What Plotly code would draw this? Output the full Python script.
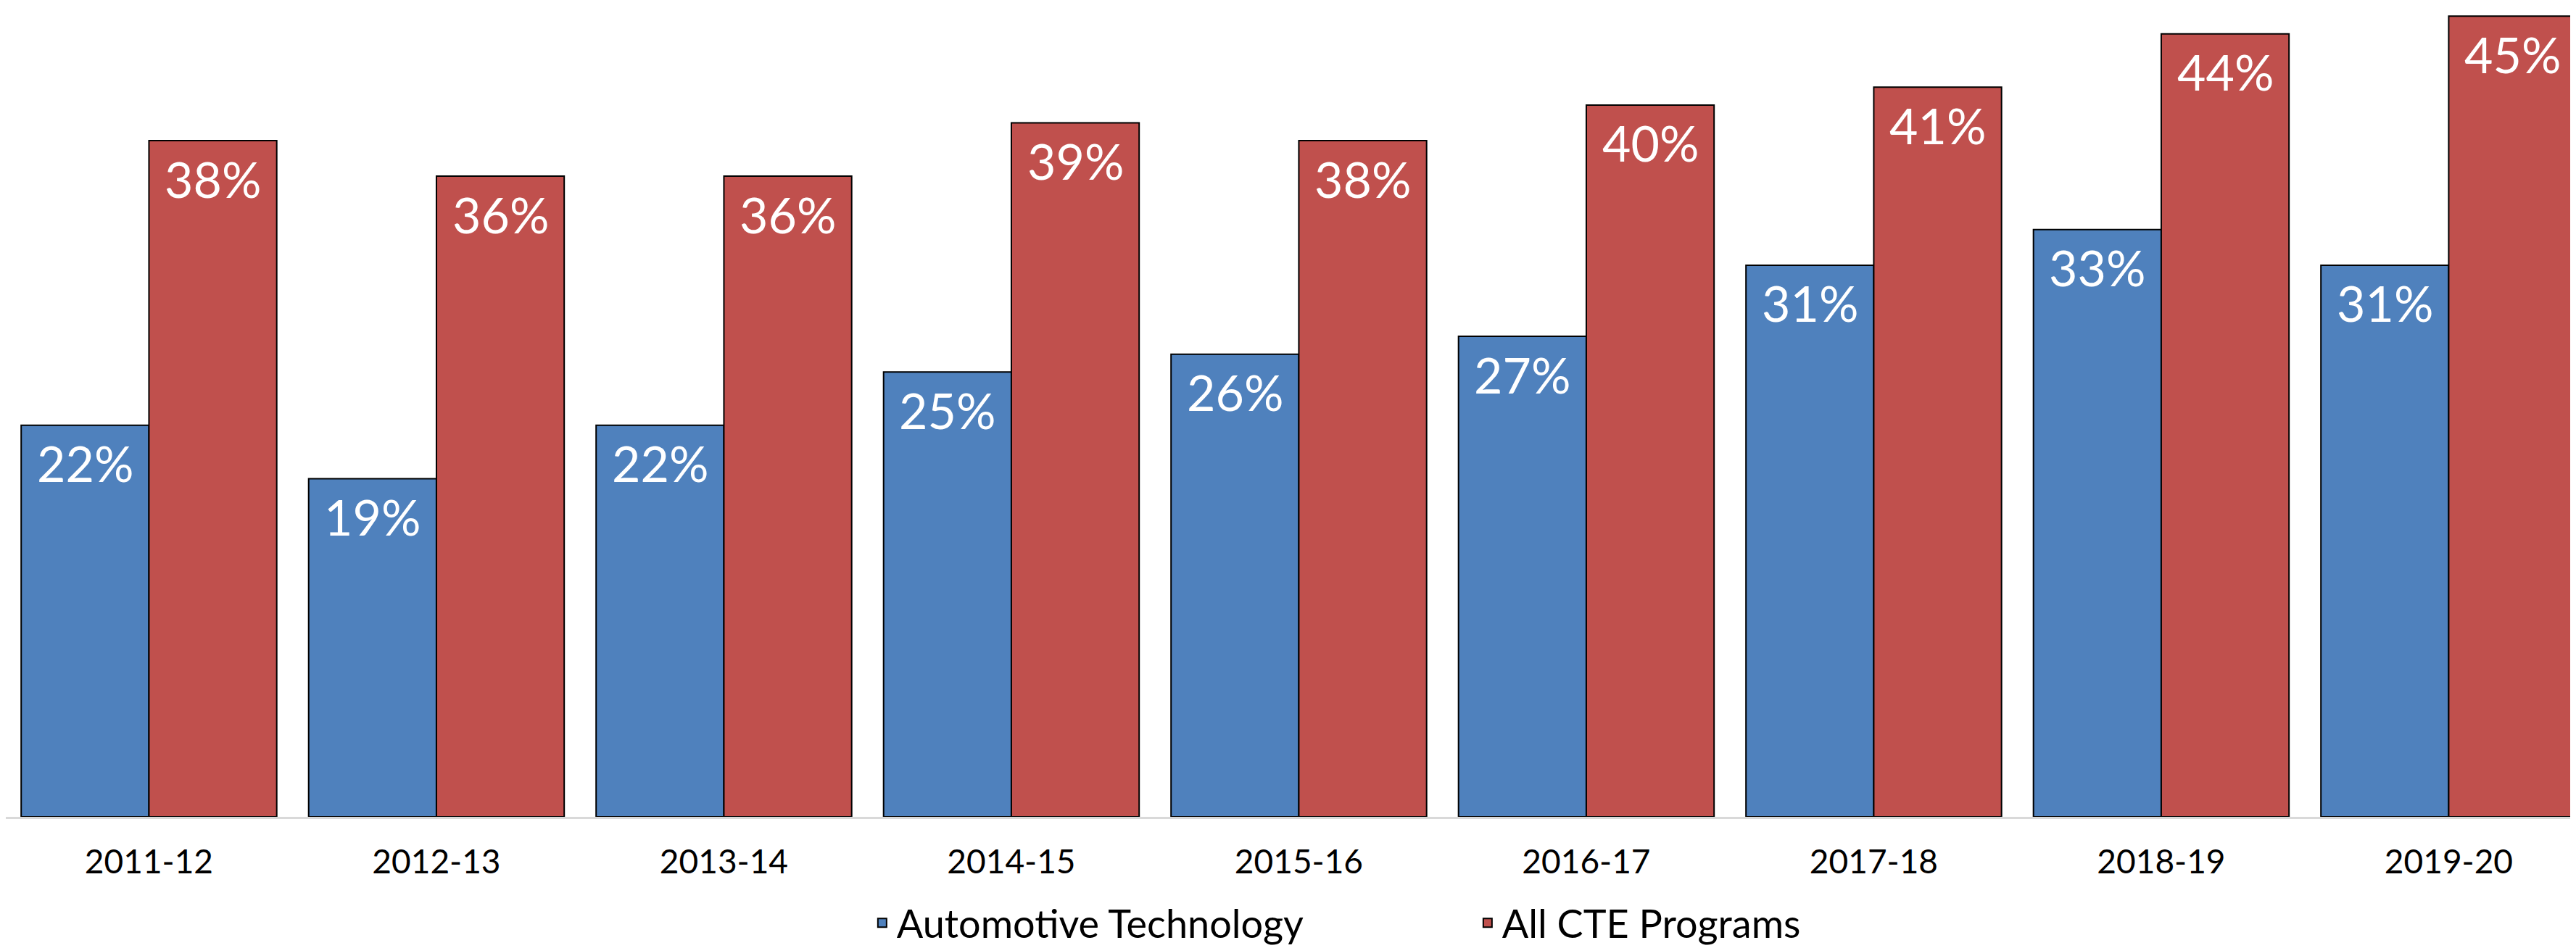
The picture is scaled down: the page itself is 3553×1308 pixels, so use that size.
import plotly.graph_objects as go

years = ["2011-12", "2012-13", "2013-14", "2014-15", "2015-16",
         "2016-17", "2017-18", "2018-19", "2019-20"]
auto_tech = [22, 19, 22, 25, 26, 27, 31, 33, 31]
all_cte = [38, 36, 36, 39, 38, 40, 41, 44, 45]
series_names = ["Automotive Technology", "All CTE Programs"]

BLUE = "#4F81BD"
RED = "#C0504D"
FONT = "Lato, 'Open Sans', sans-serif"

W, H = 3553, 1308
BARGAP = 0.111

fig = go.Figure()
for name, vals, col in [(series_names[0], auto_tech, BLUE),
                        (series_names[1], all_cte, RED)]:
    fig.add_trace(go.Bar(
        x=years, y=vals, name=name,
        marker=dict(color=col, line=dict(color="#000000", width=2)),
        hoverinfo="x+y+name",
    ))

# data labels (inside near the top of each bar)
half = (1 - BARGAP) / 4
annotations = []
for k, vals in enumerate([auto_tech, all_cte]):
    off = -half if k == 0 else half
    for i, v in enumerate(vals):
        annotations.append(dict(
            x=i + off, y=v, xref="x", yref="y",
            text=f"{v}%", showarrow=False,
            yanchor="middle", xanchor="center", yshift=-52,
            font=dict(family=FONT, size=68, color="#FFFFFF"),
        ))

fig.update_layout(
    width=W, height=H,
    margin=dict(l=0, r=0, t=0, b=180),
    paper_bgcolor="#FFFFFF", plot_bgcolor="#FFFFFF",
    barmode="group", bargap=BARGAP, bargroupgap=0,
    font=dict(family=FONT, size=46, color="#000000"),
    showlegend=True,
    legend=dict(orientation="h", x=0.3346, xanchor="left",
                y=-0.131, yanchor="middle",
                font=dict(family=FONT, size=54, color="#000000"),
                entrywidth=790, bgcolor="rgba(0,0,0,0)"),
    annotations=annotations,
)
fig.update_xaxes(
    type="category", range=[-0.498, 8.463],
    showline=True, linecolor="#D9D9D9", linewidth=3,
    showgrid=False, zeroline=False,
    ticks="outside", ticklen=20, tickcolor="rgba(0,0,0,0)",
    tickfont=dict(family=FONT, size=46, color="#000000"),
)
fig.update_yaxes(
    range=[0, 45.576], showgrid=False, zeroline=False,
    showticklabels=False, showline=False, ticks="",
)

fig.write_html("out.html")
